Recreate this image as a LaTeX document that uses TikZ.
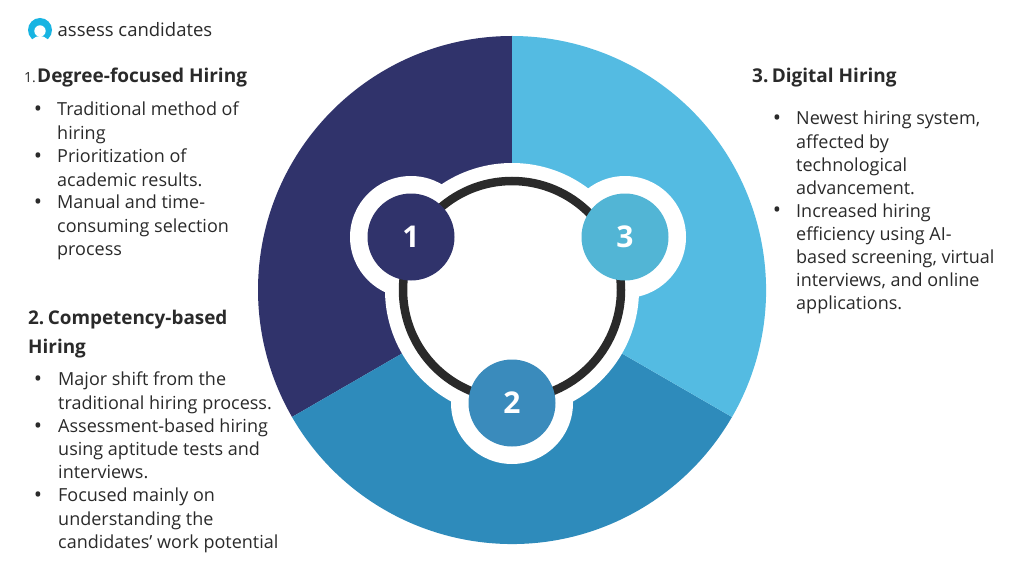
\documentclass[tikz,border=0pt]{standalone}
\usepackage{fontspec}
\setmainfont{Open Sans}
\definecolor{navy}{HTML}{30336B}
\definecolor{sky}{HTML}{54BBE2}
\definecolor{mid}{HTML}{2E8BBB}
\definecolor{nodetwo}{HTML}{3A8BBC}
\definecolor{nodethree}{HTML}{52B5D5}
\definecolor{ink}{HTML}{2A2A2A}
\definecolor{logoc}{HTML}{18B4E2}
\tikzset{
 x=1pt,y=-1pt,
 body/.style={anchor=north west,inner sep=0pt,align=left,text=ink,font=\fontsize{18}{23.15}\selectfont,execute at begin node=\rule{0pt}{14pt}},
 head/.style={anchor=base west,inner sep=0pt,text=ink,font=\fontsize{19}{28}\selectfont\bfseries},
 headm/.style={anchor=north west,inner sep=0pt,align=left,text=ink,font=\fontsize{18.9}{29}\selectfont\bfseries,execute at begin node=\rule{0pt}{14pt}},
 bul/.style={inner sep=0pt,yshift=-2.6pt,text=ink,font=\fontsize{22}{22}\selectfont},
 num/.style={circle,minimum size=87pt,inner sep=0pt,text=white,font=\fontsize{30}{30}\selectfont\bfseries},
}
\begin{document}
\begin{tikzpicture}
\useasboundingbox (0,0) rectangle (1024,580);
\fill[white] (0,0) rectangle (1024,580);
\coordinate (c) at (512,290);
% sectors
\fill[navy] (c) -- (512,36) arc[start angle=-90,end angle=-210,radius=254] -- cycle;
\fill[mid] (c) -- (292,417) arc[start angle=150,end angle=30,radius=254] -- cycle;
\fill[sky] (c) -- (732,417) arc[start angle=30,end angle=-90,radius=254] -- cycle;
% white halos
\fill[white] (c) circle[radius=127];
\fill[white] (411,237) circle[radius=61];
\fill[white] (625,237) circle[radius=61];
\fill[white] (512,403) circle[radius=61];
% ring
\draw[ink,line width=8.5pt] (c) circle[radius=109];
% numbered nodes
\node[num,fill=navy] (n1) at (411,237) {1};
\node[num,fill=nodethree] (n3) at (625,237) {3};
\node[num,fill=nodetwo] (n2) at (512,403) {2};
% logo
\begin{scope}
\clip (20,15) rectangle (60,40);
\fill[logoc] (40,30) circle[radius=12];
\end{scope}
\fill[white] (40,31) circle[radius=5.7];
\fill[white] (40,46) circle[radius=10];
\node[anchor=base west,inner sep=0pt,text=ink,font=\fontsize{18.5}{22}\selectfont] (logo) at (57.5,37) {assess candidates};
% section 1
\node[anchor=base west,inner sep=0pt,text=ink,font=\fontsize{14}{18}\selectfont] (h1n) at (24,83) {1.};
\node[head] (h1) at (37,83) {Degree-focused Hiring};
\node[bul] (b11) at (38,109) {•};
\node[body] (t11) at (57,102) {Traditional method of\\hiring};
\node[bul] (b12) at (38,156) {•};
\node[body] (t12) at (57,149) {Prioritization of\\academic results.};
\node[bul] (b13) at (38,202) {•};
\node[body] (t13) at (57,195) {Manual and time-\\consuming selection\\process};
% section 2
\node[headm] (h2) at (28,310) {2.\hspace{3.4pt}Competency-based\\Hiring};
\node[bul] (b21) at (38,379) {•};
\node[body] (t21) at (58,372) {Major shift from the\\traditional hiring process.};
\node[bul] (b22) at (38,426) {•};
\node[body] (t22) at (58,418.5) {Assessment-based hiring\\using aptitude tests and\\interviews.};
\node[bul] (b23) at (38,495) {•};
\node[body] (t23) at (58,488) {Focused mainly on\\understanding the\\candidates’ work potential};
% section 3
\node[head] (h3) at (752,83) {3.\hspace{3.4pt}Digital Hiring};
\node[bul] (b31) at (777,118) {•};
\node[body] (t31) at (796,111) {Newest hiring system,\\affected by\\technological\\advancement.};
\node[bul] (b32) at (777,210) {•};
\node[body] (t32) at (796,203.5) {Increased hiring\\efficiency using AI-\\based screening, virtual\\interviews, and online\\applications.};
\end{tikzpicture}
\end{document}
